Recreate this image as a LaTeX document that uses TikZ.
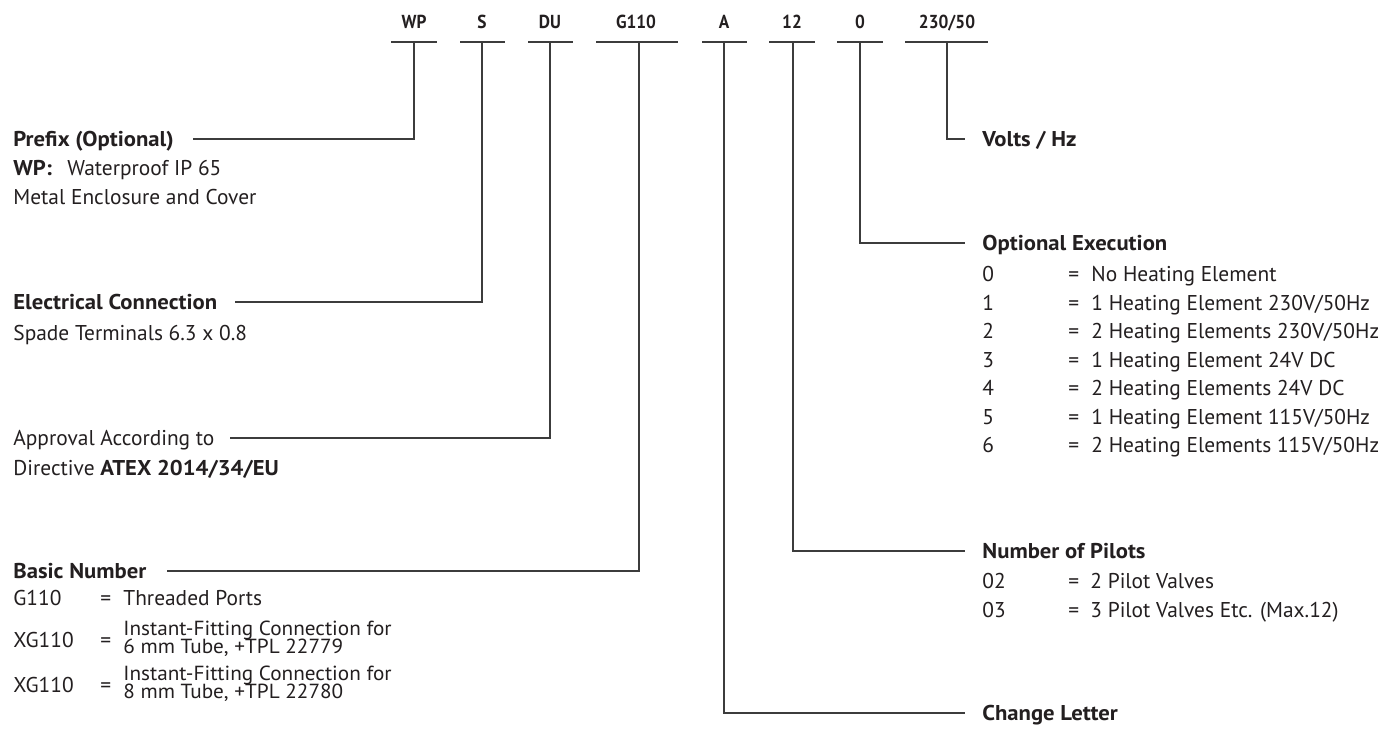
\documentclass[tikz,border=0pt]{standalone}
\usepackage{fontspec}
\setmainfont{PT Sans}[BoldFeatures={FakeStretch=1.06}]
\newfontfamily\codefont{PT Sans}[FakeStretch=0.92]
\newfontfamily\smallfont{PT Sans}[FakeStretch=1.04]
\definecolor{txt}{HTML}{231F20}
\definecolor{ln}{HTML}{3C3C3C}
\begin{document}
\begin{tikzpicture}[x=0.5pt,y=-0.5pt,
  lbl/.style={inner sep=0pt, anchor=base west, text=txt, font=\fontsize{10.7}{12}\selectfont},
  ttl/.style={inner sep=0pt, anchor=south west, text=txt, text height=7.5pt, text depth=0pt, font=\fontsize{10.7}{12}\selectfont\bfseries},
  ttlr/.style={ttl, font=\fontsize{10.7}{12}\selectfont},
  code/.style={inner sep=0pt, anchor=base, text=txt, font=\codefont\fontsize{9.4}{11}\selectfont\bfseries},
  small/.style={lbl, font=\smallfont\fontsize{10.2}{11}\selectfont},
  conn/.style={draw=ln, line width=0.8pt}]
\fill[white] (0,0) rectangle (1397,729);
\useasboundingbox (0,0) rectangle (1397,729);

% ---- code row ----
\node[code] (cWP)   at (414,28) {WP};
\node[code] (cS)    at (482,28) {S};
\node[code] (cDU)   at (550,28) {DU};
\node[code] (cG)    at (636,28) {G110};
\node[code] (cA)    at (724,28) {A};
\node[code] (c12)   at (792,28) {12};
\node[code] (c0)    at (860,28) {0};
\node[code] (cV)    at (947,28) {230/50};

\coordinate (uWPa) at (391,42); \coordinate (uWPb) at (437,42);
\coordinate (uSa)  at (460,42); \coordinate (uSb)  at (505,42);
\coordinate (uDUa) at (528,42); \coordinate (uDUb) at (573,42);
\coordinate (uGa)  at (596,42); \coordinate (uGb)  at (678,42);
\coordinate (uAa)  at (702,42); \coordinate (uAb)  at (747,42);
\coordinate (u12a) at (769,42); \coordinate (u12b) at (815,42);
\coordinate (u0a)  at (837,42); \coordinate (u0b)  at (883,42);
\coordinate (uVa)  at (905,42); \coordinate (uVb)  at (988,42);
\foreach \u in {WP,S,DU,G,A,12,0,V} \draw[conn] (u\u a) -- (u\u b);

\coordinate (tWP) at (414,42);
\coordinate (tS)  at (482,42);
\coordinate (tDU) at (550,42);
\coordinate (tG)  at (639,42);
\coordinate (tA)  at (724,42);
\coordinate (t12) at (793,42);
\coordinate (t0)  at (860,42);
\coordinate (tV)  at (947,42);

% ---- left column ----
\node[ttl] (prefix) at (13,147) {Prefix (Optional)};
\node[lbl] (wp1) at (13,175) {\textbf{WP:}};
\node[lbl] (wp2) at (67,175) {Waterproof IP 65};
\node[lbl] (wp3) at (13,204) {Metal Enclosure and Cover};

\node[ttl] (elec) at (13,310) {Electrical Connection};
\node[lbl] (spade) at (13,340) {Spade Terminals 6.3 x 0.8};

\node[ttlr] (appr) at (13,446) {Approval According to};
\node[lbl] (dir) at (13,475) {Directive \textbf{ATEX 2014/34/EU}};

\node[ttl] (basic) at (13,579) {Basic Number};
\node[lbl] (g1) at (13,605) {G110};
\node[lbl] (g1e) at (100,605) {=};
\node[lbl] (g1t) at (123,605) {Threaded Ports};
\node[lbl] (x1) at (13,647) {XG110};
\node[lbl] (x1e) at (100,647) {=};
\node[small] (x1t) at (123,635) {Instant-Fitting Connection for};
\node[small] (x1u) at (123,653) {6 mm Tube, +TPL 22779};
\node[lbl] (x2) at (13,692) {XG110};
\node[lbl] (x2e) at (100,692) {=};
\node[small] (x2t) at (123,680) {Instant-Fitting Connection for};
\node[small] (x2u) at (123,698) {8 mm Tube, +TPL 22780};

% ---- right column ----
\node[ttl] (volts) at (982,147) {Volts / Hz};

\node[ttl] (opt) at (982,251) {Optional Execution};
\node[lbl] (o0) at (982,281) {0};  \node[lbl] (o0e) at (1068,281) {=}; \node[lbl] (o0t) at (1091,281) {No Heating Element};
\node[lbl] (o1) at (982,310) {1};  \node[lbl] (o1e) at (1068,310) {=}; \node[lbl] (o1t) at (1091,310) {1 Heating Element 230V/50Hz};
\node[lbl] (o2) at (982,338) {2};  \node[lbl] (o2e) at (1068,338) {=}; \node[lbl] (o2t) at (1091,338) {2 Heating Elements 230V/50Hz};
\node[lbl] (o3) at (982,367) {3};  \node[lbl] (o3e) at (1068,367) {=}; \node[lbl] (o3t) at (1091,367) {1 Heating Element 24V DC};
\node[lbl] (o4) at (982,395) {4};  \node[lbl] (o4e) at (1068,395) {=}; \node[lbl] (o4t) at (1091,395) {2 Heating Elements 24V DC};
\node[lbl] (o5) at (982,424) {5};  \node[lbl] (o5e) at (1068,424) {=}; \node[lbl] (o5t) at (1091,424) {1 Heating Element 115V/50Hz};
\node[lbl] (o6) at (982,452) {6};  \node[lbl] (o6e) at (1068,452) {=}; \node[lbl] (o6t) at (1091,452) {2 Heating Elements 115V/50Hz};

\node[ttl] (pil) at (982,559) {Number of Pilots};
\node[lbl] (p2) at (982,588) {02}; \node[lbl] (p2e) at (1068,588) {=}; \node[lbl] (p2t) at (1090,588) {2 Pilot Valves};
\node[lbl] (p3) at (982,617) {03}; \node[lbl] (p3e) at (1068,617) {=}; \node[lbl] (p3t) at (1090,617) {3 Pilot Valves Etc. (Max.12)};

\node[ttl] (chg) at (982,721) {Change Letter};

% ---- connectors ----
\draw[conn] (tWP) |- ([xshift=9.5pt]prefix.east);
\draw[conn] (tS)  |- ([xshift=8.5pt]elec.east);
\draw[conn] (tDU) |- ([xshift=7.5pt]appr.east);
\draw[conn] (tG)  |- ([xshift=10pt]basic.east);
\draw[conn] (tV)  |- ([xshift=-8.5pt]volts.west);
\draw[conn] (t0)  |- ([xshift=-8.5pt]opt.west);
\draw[conn] (t12) |- ([xshift=-8.5pt]pil.west);
\draw[conn] (tA)  |- ([xshift=-8.5pt]chg.west);
\end{tikzpicture}
\end{document}
